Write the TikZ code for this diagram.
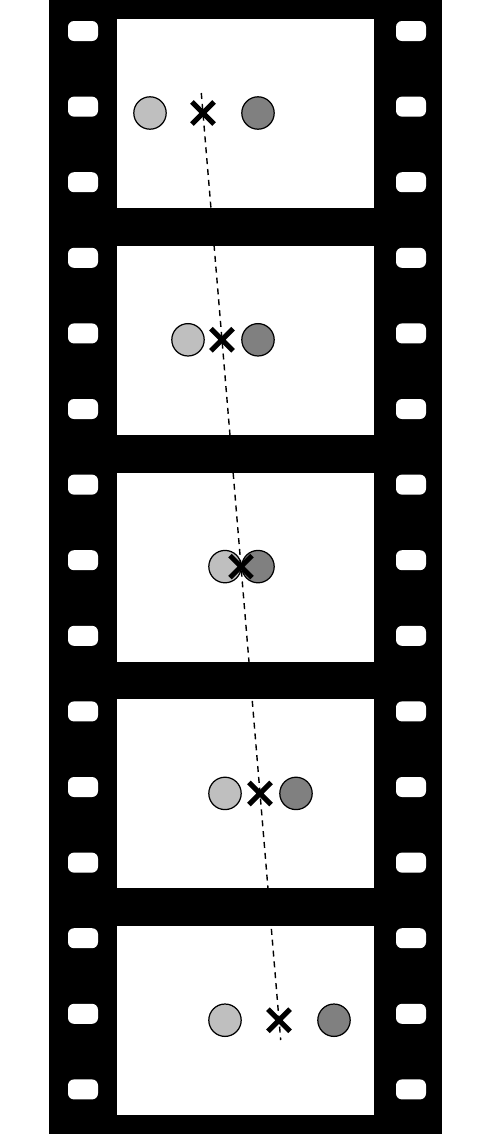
\documentclass[tikz,border=0pt]{standalone}
\usetikzlibrary{shapes.misc}

\begin{document}
\begin{tikzpicture}[x=0.02cm, y=-0.02cm,
	hole/.style={fill=white, rounded corners=3.4pt},
	ball/.style={circle, draw, line width=0.7pt, inner sep=0pt, minimum size=0.648cm},
	cmark/.style={cross out, draw, line width=2.9pt, inner sep=0pt, minimum size=0.34cm},
	cmpath/.style={line width=0.8pt, dash pattern=on 3.4pt off 2.8pt}]
						\useasboundingbox (0,0) rectangle (492,1134);
						
						% film strip
						\fill (49,0) rectangle (441.5,1134);
						\foreach \k in {0,...,4}{
							\fill[white] (117,19+\k*226.8) rectangle (374,208+\k*226.8);
						}
						\foreach \i in {0,...,14}{
							\fill[hole] (68,21+\i*75.6) rectangle (98,41+\i*75.6);
							\fill[hole] (396,21+\i*75.6) rectangle (426,41+\i*75.6);
						}
						
						% the two balls in each frame
						\foreach \k/\xa/\xb/\xc in {0/150/258/203, 1/188/258/222, 2/225/258/241, 3/225/296/260, 4/225/334/279}{
							\node[ball, fill=black!25] (light\k) at (\xa,113+\k*226.8) {};
							\node[ball, fill=black!50] (dark\k) at (\xb,113+\k*226.8) {};
							\coordinate (cm\k) at (\xc,113+\k*226.8);
						}
						
						\coordinate (pathtop) at (201.3,93);
						\coordinate (pathbot) at (280.7,1040);
						\draw[cmpath] (pathtop) -- (pathbot);
						
						\foreach \k in {0,...,4}
							\node[cmark] (mark\k) at (cm\k) {};
\end{tikzpicture}
\end{document}
